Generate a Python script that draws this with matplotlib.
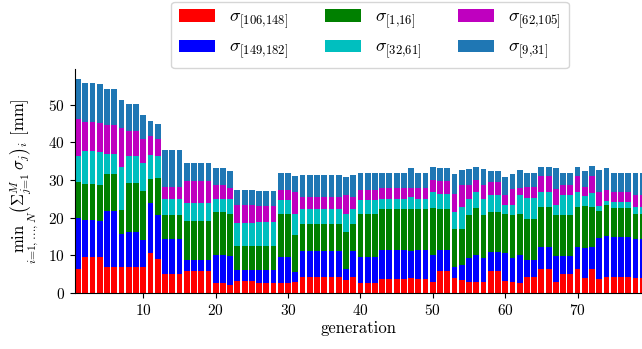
import matplotlib
matplotlib.use('Agg')
import matplotlib.pyplot as plt
import numpy as np

plt.rcParams['font.family'] = 'cmr10'
plt.rcParams['mathtext.fontset'] = 'cm'
plt.rcParams['axes.formatter.use_mathtext'] = True

generation = np.arange(1, 80)

# segment heights per generation, bottom to top of the stack
sigma_106_148 = [6.4, 9.5, 9.5, 9.5, 6.8, 6.8, 6.8, 6.8, 6.8, 6.8,
                 10.5, 8.9, 5.0, 5.0, 5.0, 5.8, 5.8, 5.8, 5.8, 2.6,
                 2.6, 2.0, 3.1, 3.1, 3.1, 2.6, 2.6, 2.6, 2.6, 2.6,
                 2.8, 4.2, 4.2, 4.2, 4.2, 4.2, 4.2, 3.4, 4.2, 2.6,
                 2.6, 2.6, 3.6, 3.6, 3.6, 3.6, 3.9, 3.6, 3.6, 2.8,
                 5.8, 5.8, 3.9, 3.4, 2.8, 2.8, 2.8, 5.8, 5.8, 3.1,
                 2.8, 2.6, 4.2, 4.2, 6.5, 6.5, 2.8, 5.0, 5.0, 6.5,
                 3.9, 6.5, 3.6, 4.2, 4.2, 4.2, 4.2, 3.9, 3.9]
sigma_149_182 = [13.5, 9.8, 9.8, 9.6, 15.1, 15.1, 8.8, 9.3, 9.3, 7.2,
                 13.3, 11.9, 9.3, 9.3, 9.3, 2.9, 2.9, 2.9, 2.9, 7.4,
                 7.4, 7.7, 2.9, 2.9, 2.9, 3.5, 3.5, 3.5, 6.9, 6.9,
                 2.7, 6.9, 6.9, 6.9, 6.9, 6.9, 6.9, 2.9, 6.9, 6.9,
                 6.9, 6.9, 7.7, 7.7, 7.7, 7.7, 7.2, 7.7, 7.7, 7.2,
                 5.6, 5.6, 2.9, 4.0, 6.6, 7.2, 6.6, 5.0, 5.0, 7.4,
                 6.4, 7.4, 4.5, 4.5, 5.8, 5.8, 6.9, 4.8, 4.8, 5.8,
                 8.0, 5.8, 10.9, 10.9, 10.6, 10.6, 10.6, 10.4, 10.4]
sigma_1_16 = [9.6, 9.6, 9.6, 9.5, 9.8, 9.8, 6.4, 13.0, 13.0, 13.0,
              6.4, 9.8, 6.4, 6.4, 6.4, 10.4, 10.4, 10.4, 10.4, 11.4,
              11.4, 11.2, 6.4, 6.4, 6.4, 6.4, 6.4, 6.4, 11.4, 11.4,
              9.8, 7.2, 7.2, 7.2, 7.2, 7.2, 7.2, 9.8, 7.2, 11.4,
              11.4, 11.4, 10.9, 10.9, 10.9, 10.9, 11.2, 10.9, 10.9, 12.5,
              10.9, 10.9, 10.1, 9.6, 11.4, 12.5, 11.4, 10.6, 10.6, 10.6,
              11.4, 10.9, 10.9, 10.9, 10.6, 10.6, 10.9, 10.9, 10.9, 10.6,
              11.2, 10.6, 7.2, 8.2, 7.7, 7.7, 7.7, 6.6, 6.6]
sigma_32_61 = [6.9, 8.8, 8.8, 8.8, 5.3, 5.3, 11.4, 7.2, 7.2, 7.4,
               6.4, 5.8, 4.2, 4.2, 4.2, 4.8, 4.8, 4.8, 4.8, 3.7,
               3.7, 4.0, 6.1, 6.1, 6.1, 6.4, 6.4, 6.4, 3.7, 3.7,
               5.8, 4.0, 4.0, 4.0, 4.0, 4.0, 4.0, 5.0, 4.0, 3.7,
               3.7, 3.7, 2.9, 2.9, 2.9, 2.9, 3.2, 2.9, 2.9, 4.2,
               4.0, 4.0, 4.5, 5.8, 4.2, 4.2, 4.2, 4.5, 4.5, 2.4,
               2.9, 5.0, 5.6, 5.6, 4.0, 4.0, 2.7, 5.3, 5.3, 4.0,
               2.7, 3.7, 1.3, 1.1, 1.6, 1.6, 1.6, 1.9, 1.9]
sigma_62_105 = [9.9, 7.7, 7.7, 7.7, 7.7, 7.7, 10.4, 6.6, 6.6, 6.6,
                5.0, 4.5, 3.2, 3.2, 3.2, 5.8, 5.8, 5.8, 5.8, 3.5,
                3.5, 2.9, 4.8, 4.8, 4.8, 4.2, 4.2, 4.2, 2.7, 2.7,
                5.6, 3.2, 3.2, 3.2, 3.2, 3.2, 3.2, 4.8, 3.2, 2.7,
                2.7, 2.7, 2.7, 2.7, 2.7, 2.7, 2.4, 2.7, 2.7, 3.2,
                3.5, 3.5, 5.0, 5.8, 3.7, 3.2, 3.7, 3.7, 3.7, 2.4,
                4.2, 1.9, 2.9, 2.9, 4.2, 4.2, 4.2, 2.7, 2.7, 4.2,
                2.4, 4.5, 3.7, 2.9, 2.7, 2.7, 2.7, 3.2, 3.2]
sigma_9_31 = [10.5, 10.4, 10.4, 10.4, 9.6, 9.6, 7.4, 7.4, 7.4, 6.4,
              4.2, 4.0, 9.8, 9.8, 9.8, 4.8, 4.8, 4.8, 4.8, 4.5,
              4.5, 4.5, 4.0, 4.0, 4.0, 4.0, 4.0, 4.0, 4.5, 4.5,
              4.5, 5.8, 5.8, 5.8, 5.8, 5.8, 5.8, 4.8, 5.8, 4.5,
              4.5, 4.5, 4.2, 4.2, 4.2, 4.2, 5.3, 4.2, 4.2, 3.5,
              3.5, 3.5, 5.3, 4.0, 4.2, 3.5, 4.2, 2.9, 2.9, 5.0,
              4.0, 5.0, 3.7, 3.7, 2.4, 2.4, 5.6, 3.2, 3.2, 2.4,
              4.2, 2.7, 6.1, 5.8, 5.0, 5.0, 5.0, 5.8, 5.8]

series = [
    (sigma_106_148, 'r', r'$\sigma_{[106{,}148]}$'),
    (sigma_149_182, 'b', r'$\sigma_{[149{,}182]}$'),
    (sigma_1_16, 'g', r'$\sigma_{[1{,}16]}$'),
    (sigma_32_61, 'c', r'$\sigma_{[32{,}61]}$'),
    (sigma_62_105, 'm', r'$\sigma_{[62{,}105]}$'),
    (sigma_9_31, '#1f77b4', r'$\sigma_{[9{,}31]}$'),
]

fig = plt.figure(figsize=(6.42, 3.49), dpi=100)
ax = fig.add_axes([74.5 / 642, 56 / 349, (642 - 74.5) / 642, 224 / 349])

bottom = np.zeros(len(generation))
for vals, col, lab in series:
    ax.bar(generation, vals, width=0.8, bottom=bottom, color=col, label=lab)
    bottom += np.array(vals)

ax.set_xlim(0.5, 78.9)
ax.set_ylim(0, 59.5)
ax.set_xticks([10, 20, 30, 40, 50, 60, 70])
ax.set_yticks([0, 10, 20, 30, 40, 50])
ax.tick_params(labelsize=11)
ax.spines['top'].set_visible(False)
ax.spines['right'].set_visible(False)

ax.set_xlabel('generation', fontsize=12, labelpad=2)
# cm's large right paren renders wrongly in mathtext, so keep delimiters normal size
ax.set_ylabel(r'$\min_{i=1,\ldots,N}\left(\Sigma_{j=1}^{M}\sigma_j\right)_i$ [mm]',
              fontsize=12, labelpad=6)

fig.legend(loc='upper center', bbox_to_anchor=(370 / 642, 1.0), ncol=3,
           fontsize=13, borderaxespad=0.1)

fig.savefig('out.png', dpi=100)
